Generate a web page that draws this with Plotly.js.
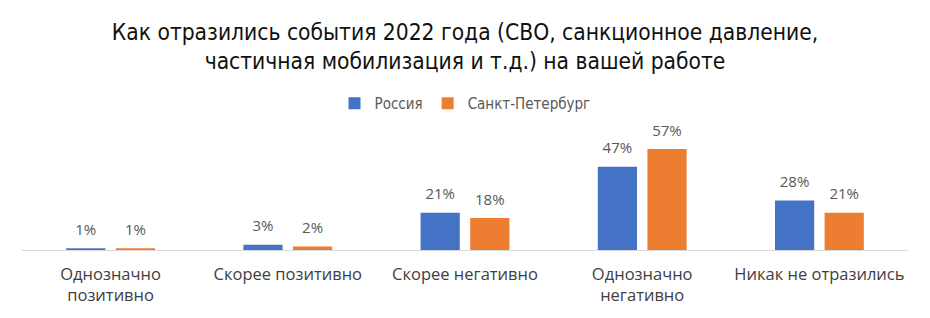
<!DOCTYPE html>
<html><head><meta charset="utf-8">
<script src="https://cdn.plot.ly/plotly-3.0.1.min.js"></script>
<style>html,body{margin:0;padding:0;background:#fff;}#chart{width:930px;height:318px;}</style>
</head><body><div id="chart"></div>
<script>
const categories = ["Однозначно<br>позитивно", "Скорее позитивно", "Скорее негативно", "Однозначно<br>негативно", "Никак не отразились"];
const russia = [1, 3, 21, 47, 28];
const spb = [1, 2, 18, 57, 21];
const seriesNames = ["Россия", "Санкт-Петербург"];
const titleText = "Как отразились события 2022 года (СВО, санкционное давление,<br>частичная мобилизация и т.д.) на вашей работе";

const labelFont = {family: "'Open Sans', Lato, sans-serif", size: 15, color: "#595959"};
function mkBar(name, vals, color, grp) {
  return {type: "bar", name: name, x: categories, y: vals, offsetgroup: grp,
    marker: {color: color}, hoverinfo: "none"};
}
function mkLabel(vals, grp) {
  return {type: "scatter", mode: "text+markers", x: categories, y: vals, offsetgroup: grp,
    marker: {size: 14, opacity: 0}, text: vals.map(v => v + "%"), textposition: "top center",
    textfont: labelFont, showlegend: false, cliponaxis: false, hoverinfo: "none"};
}
const data = [
  mkBar(seriesNames[0], russia, "#4472C4", "a"),
  mkBar(seriesNames[1], spb, "#ED7D31", "b"),
  mkLabel(russia, "a"), mkLabel(spb, "b")
];
const layout = {
  width: 930, height: 318,
  margin: {l: 22, r: 22, t: 120, b: 68},
  paper_bgcolor: "#fff", plot_bgcolor: "#fff",
  title: {text: titleText, x: 0.5, xanchor: "center", y: 0.875, yanchor: "top",
    font: {family: "'Liberation Sans Narrow', 'DejaVu Sans Condensed', Roboto, sans-serif", size: 22.6, color: "#111"}},
  showlegend: true,
  legend: {orientation: "h", x: 0.5, xanchor: "center", y: 1.0, yanchor: "bottom",
    font: {family: "'DejaVu Sans Condensed', Roboto, sans-serif", size: 15, color: "#595959"},
    itemwidth: 30, traceorder: "normal"},
  barmode: "group", bargap: 0.44, bargroupgap: 0.21,
  scattermode: "group",
  xaxis: {showline: true, linecolor: "#D9D9D9", linewidth: 1, ticks: "", showgrid: false,
    tickfont: {family: "'Open Sans', Lato, sans-serif", size: 16.5, color: "#404040"}, ticklabelstandoff: 9},
  yaxis: {range: [0, 73.4], visible: false, showgrid: false, zeroline: false},
  font: {family: "'Open Sans', sans-serif"}
};
Plotly.newPlot("chart", data, layout, {displayModeBar: false, staticPlot: true});
</script></body></html>
